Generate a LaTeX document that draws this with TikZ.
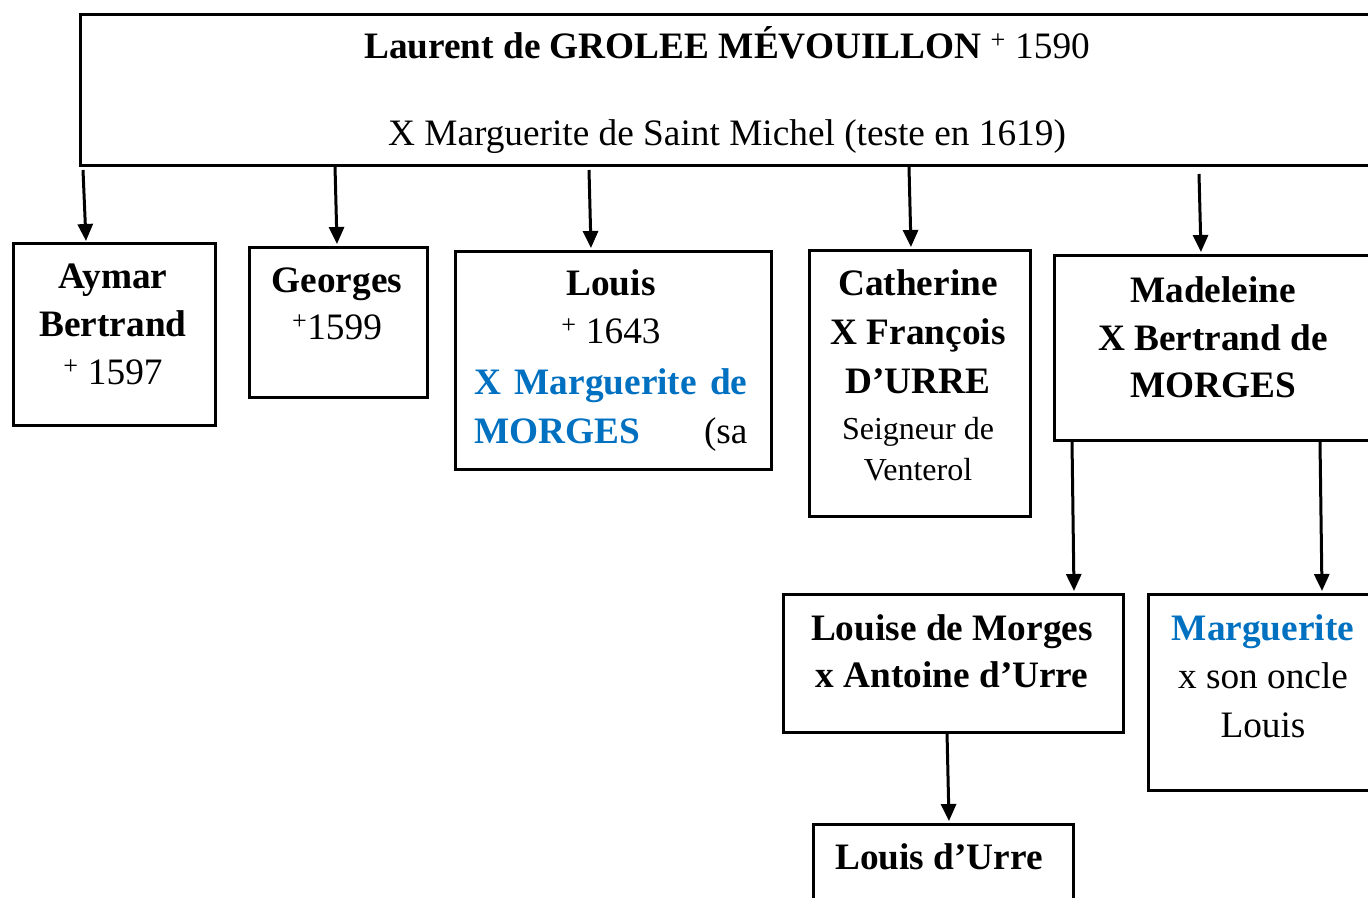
\documentclass[tikz,border=0pt]{standalone}
\usepackage{fontspec}
\setmainfont{Liberation Serif}
\usetikzlibrary{arrows.meta}
\definecolor{wblue}{RGB}{0,112,192}
\begin{document}
\begin{tikzpicture}[x=1pt,y=-1pt,
  box/.style={draw,line width=3pt,inner sep=0pt,anchor=north west},
  t/.style={anchor=base,inner sep=0pt,font=\fontsize{37.3}{44}\selectfont},
  ts/.style={anchor=base,inner sep=0pt,font=\fontsize{32}{38}\selectfont},
  arr/.style={line width=3pt,-{Triangle[length=17pt,width=15pt]}}]
\useasboundingbox (0,0) rectangle (1368,897);
\clip (0,0) rectangle (1368,897);
% boxes
\node[box,minimum width=1300pt,minimum height=151pt] (top) at (79,13) {};
\node[box,minimum width=202pt,minimum height=182pt] (aymar) at (12,242) {};
\node[box,minimum width=178pt,minimum height=150pt] (georges) at (248,246) {};
\node[box,minimum width=316pt,minimum height=218pt] (louis) at (454,250) {};
\node[box,minimum width=221pt,minimum height=266pt] (cath) at (808,249) {};
\node[box,minimum width=330pt,minimum height=185pt] (mad) at (1053,254) {};
\node[box,minimum width=340pt,minimum height=138pt] (louise) at (782,593) {};
\node[box,minimum width=240pt,minimum height=196pt] (marg) at (1147,593) {};
\node[box,minimum width=260pt,minimum height=120pt] (ldu) at (812,823) {};
% texts
\node[t] (top1) at (727,58) {\textbf{Laurent de GROLEE MÉVOUILLON} \textsuperscript{+} 1590};
\node[t] (top2) at (727,145) {X Marguerite de Saint Michel (teste en 1619)};
\node[t] (aym1) at (113,288) {\textbf{Aymar}};
\node[t] (aym2) at (113,336) {\textbf{Bertrand}};
\node[t] (aym3) at (113,384) {\textsuperscript{+} 1597};
\node[t] (geo1) at (337,292) {\textbf{Georges}};
\node[t] (geo2) at (337,339) {\textsuperscript{+}1599};
\node[t] (lou1) at (611,295) {\textbf{Louis}};
\node[t] (lou2) at (611,343) {\textsuperscript{+} 1643};
\node[t,text=wblue] (lou3) at (611,394) {\makebox[273pt]{\textbf{X}\hfill\textbf{Marguerite}\hfill\textbf{de}}};
\node[t] (lou4) at (611,443) {\makebox[273pt]{\textcolor{wblue}{\textbf{MORGES}}\hfill(sa}};
\node[t] (cat1) at (918,295) {\textbf{Catherine}};
\node[t] (cat2) at (918,344) {\textbf{X François}};
\node[t] (cat3) at (918,393) {\textbf{D’URRE}};
\node[ts] (cat4) at (918,439) {Seigneur de};
\node[ts] (cat5) at (918,480) {Venterol};
\node[t] (mad1) at (1213,302) {\textbf{Madeleine}};
\node[t] (mad2) at (1213,350) {\textbf{X Bertrand de}};
\node[t] (mad3) at (1213,397) {\textbf{MORGES}};
\node[t] (lse1) at (952,640) {\textbf{Louise de Morges}};
\node[t] (lse2) at (952,687) {\textbf{x Antoine d’Urre}};
\node[t,text=wblue] (mg1) at (1263,640) {\textbf{Marguerite}};
\node[t] (mg2) at (1263,688) {x son oncle};
\node[t] (mg3) at (1263,737) {Louis};
\node[t] (ldu1) at (939,869) {\textbf{Louis d’Urre}};
% arrow endpoints
\coordinate (s1) at (83,170);   \coordinate (e1) at (86,241);
\coordinate (s2) at (335,166);  \coordinate (e2) at (337,244);
\coordinate (s3) at (589,170);  \coordinate (e3) at (591,248);
\coordinate (s4) at (909,167);  \coordinate (e4) at (911,247);
\coordinate (s5) at (1199,174); \coordinate (e5) at (1201,252);
\coordinate (s6) at (1072,441); \coordinate (e6) at (1074,591);
\coordinate (s7) at (1320,442); \coordinate (e7) at (1322,591);
\coordinate (s8) at (947,732);  \coordinate (e8) at (949,821);
\draw[arr] (s1) -- (e1);
\draw[arr] (s2) -- (e2);
\draw[arr] (s3) -- (e3);
\draw[arr] (s4) -- (e4);
\draw[arr] (s5) -- (e5);
\draw[arr] (s6) -- (e6);
\draw[arr] (s7) -- (e7);
\draw[arr] (s8) -- (e8);
\end{tikzpicture}
\end{document}
